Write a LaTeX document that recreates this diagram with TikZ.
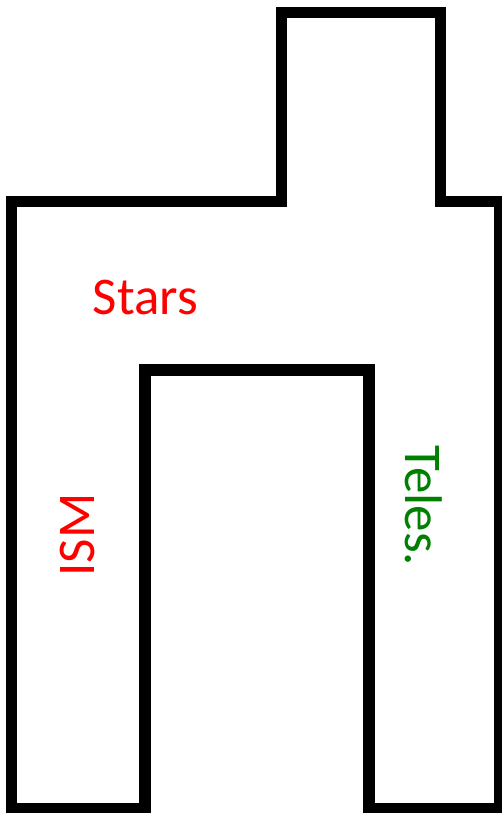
\documentclass[tikz,border=0pt]{standalone}
\usepackage{fontspec}
\setmainfont{Carlito}
\usepackage{tikz}
\definecolor{StarRed}{RGB}{255,0,0}
\definecolor{TelGreen}{RGB}{0,128,0}

\begin{document}
\begin{tikzpicture}[x=1pt,y=-1pt,font=\fontsize{53}{60}\selectfont]
\useasboundingbox (0,0) rectangle (501,813);
\draw[line width=11.5pt,miter limit=4] (11.5,809) -- (11.5,201.5) -- (281.5,201.5) -- (281.5,12.5) -- (440.5,12.5) -- (440.5,201.5) -- (499.5,201.5) -- (499.5,809) -- (369,809) -- (369,370) -- (145,370) -- (145,809) -- cycle;
\node[StarRed,inner sep=0] (stars) at (145.5,297.5) {Stars};
\node[StarRed,inner sep=0,rotate=90] (ism) at (77,535) {ISM};
\node[TelGreen,inner sep=0,rotate=-90] (teles) at (424,506) {Teles.};
\end{tikzpicture}
\end{document}
